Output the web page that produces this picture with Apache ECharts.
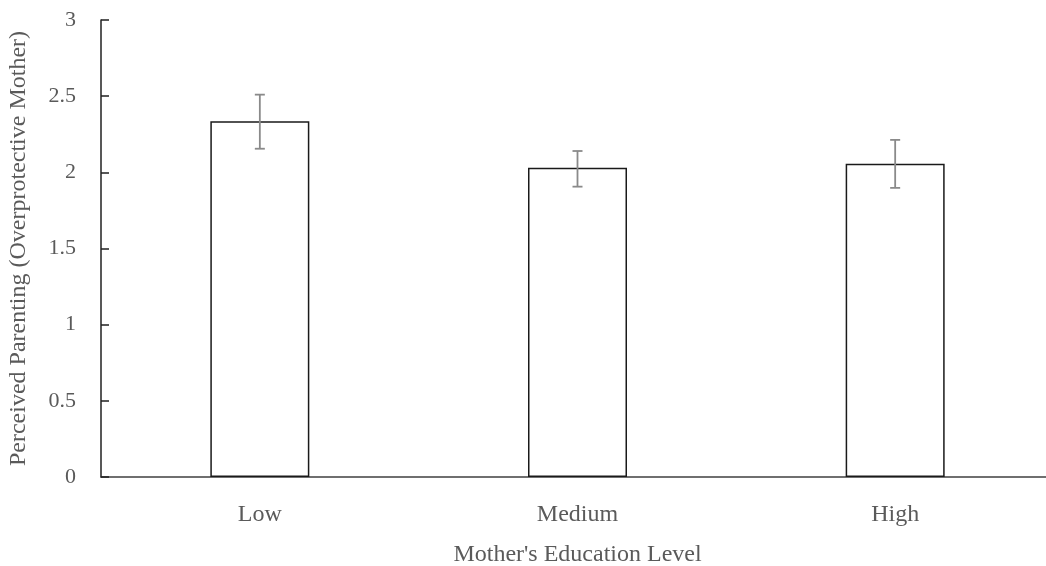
<!DOCTYPE html>
<html>
<head>
<meta charset="utf-8">
<script src="https://cdn.jsdelivr.net/npm/echarts@6/dist/echarts.min.js"></script>
<style>html,body{margin:0;padding:0;background:#fff;}#c{width:1046px;height:566px;}</style>
</head>
<body>
<div id="c"></div>
<script>
const categories = ['Low', 'Medium', 'High'];
const means = [2.335, 2.03, 2.057];
const errLow = [2.155, 1.906, 1.898];
const errHigh = [2.51, 2.14, 2.213];
const yTicks = ['0', '0.5', '1', '1.5', '2', '2.5', '3'];

const chart = echarts.init(document.getElementById('c'));
const serif = '"Liberation Serif", "DejaVu Serif", serif';
const txt = '#5a5a5a';
chart.setOption({
  animation: false,
  grid: { left: 101, top: 20, width: 953, height: 457, containLabel: false, outerBoundsMode: 'none' },
  xAxis: {
    type: 'category',
    data: categories,
    name: "Mother's Education Level",
    nameLocation: 'middle',
    nameGap: 66,
    nameTextStyle: { fontFamily: serif, fontSize: 24, color: txt },
    axisLine: { lineStyle: { color: '#404040', width: 1.5 } },
    axisTick: { show: false },
    axisLabel: { fontFamily: serif, fontSize: 24, color: txt, margin: 26 }
  },
  yAxis: {
    type: 'value',
    min: 0, max: 3, interval: 0.5,
    name: 'Perceived Parenting (Overprotective Mother)',
    nameLocation: 'middle',
    nameGap: 70,
    nameTextStyle: { fontFamily: serif, fontSize: 24, color: txt },
    axisLine: { show: true, lineStyle: { color: '#202020', width: 1.5 } },
    axisTick: { show: true, inside: true, length: 8, lineStyle: { color: '#202020', width: 1.5 } },
    splitLine: { show: false },
    axisLabel: { fontFamily: serif, fontSize: 22, color: txt, margin: 25,
      formatter: v => yTicks[Math.round(v * 2)] }
  },
  series: [
    {
      type: 'bar',
      data: means,
      barWidth: 99,
      itemStyle: { color: '#ffffff', borderColor: '#1a1a1a', borderWidth: 1.5 }
    },
    {
      type: 'custom',
      data: categories.map((c, i) => [i, errLow[i], errHigh[i]]),
      renderItem: function (params, api) {
        const x = api.coord([api.value(0), 0])[0];
        const lo = api.coord([api.value(0), api.value(1)])[1];
        const hi = api.coord([api.value(0), api.value(2)])[1];
        const w = 5;
        const st = { stroke: '#8a8a8a', lineWidth: 1.8 };
        return { type: 'group', children: [
          { type: 'line', shape: { x1: x, y1: lo, x2: x, y2: hi }, style: st },
          { type: 'line', shape: { x1: x - w, y1: lo, x2: x + w, y2: lo }, style: st },
          { type: 'line', shape: { x1: x - w, y1: hi, x2: x + w, y2: hi }, style: st }
        ]};
      },
      z: 10
    }
  ]
});
</script>
</body>
</html>
